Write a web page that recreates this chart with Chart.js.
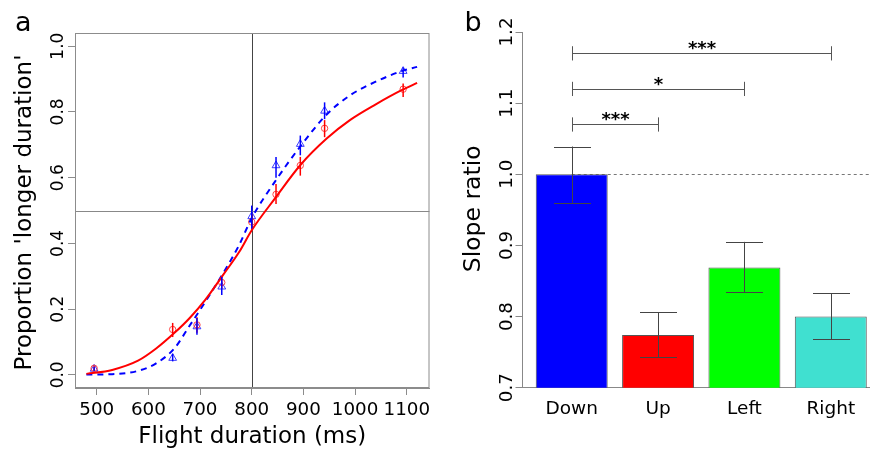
<!DOCTYPE html>
<html>
<head>
<meta charset="utf-8">
<script src="https://cdn.jsdelivr.net/npm/chart.js@4/dist/chart.umd.min.js"></script>
<style>
  html, body { margin: 0; padding: 0; background: #fff; overflow: hidden; }
  #wrap { position: relative; width: 870px; height: 454px; overflow: hidden; }
  canvas { position: absolute; top: 0; }
  #chartA { left: 0; }
  #chartB { left: 435px; }
</style>
</head>
<body>
<div id="wrap">
  <canvas id="chartA" width="435" height="454"></canvas>
  <canvas id="chartB" width="445" height="454"></canvas>
</div>
<script>
// ---- panel a: psychometric data ----
const durations = [495, 647, 694, 742, 800, 847, 894, 941, 1093];

const upProp = [0.020, 0.138, 0.152, 0.281, 0.465, 0.549, 0.637, 0.750, 0.869];
const upLo   = [0.013, 0.115, 0.128, 0.262, 0.440, 0.520, 0.606, 0.723, 0.845];
const upHi   = [0.027, 0.158, 0.175, 0.300, 0.490, 0.581, 0.663, 0.775, 0.886];

const downProp = [0.018, 0.051, 0.147, 0.268, 0.482, 0.637, 0.702, 0.803, 0.924];
const downLo   = [0.012, 0.041, 0.122, 0.243, 0.445, 0.600, 0.668, 0.778, 0.905];
const downHi   = [0.024, 0.064, 0.173, 0.298, 0.515, 0.663, 0.728, 0.829, 0.935];

// fitted curves
const fitX    = [480, 530, 580, 615, 650, 680, 710, 745, 775, 800, 845, 895, 945, 990, 1040, 1090, 1120];
const upFit   = [0.003, 0.015, 0.043, 0.080, 0.127, 0.173, 0.228, 0.305, 0.372, 0.440, 0.537, 0.640, 0.719, 0.775, 0.823, 0.866, 0.888];
const downFit = [0.001, 0.002, 0.012, 0.035, 0.080, 0.150, 0.222, 0.310, 0.393, 0.477, 0.588, 0.697, 0.792, 0.850, 0.892, 0.924, 0.937];

const xTicksA = [500, 600, 700, 800, 900, 1000, 1100];
const yTicksA = [0, 0.2, 0.4, 0.6, 0.8, 1.0];
const refDuration = 800;
const refProp = 0.5;

// ---- panel b: slope ratios ----
const directions = ['Down', 'Up', 'Left', 'Right'];
const slopeRatio = [1.000, 0.774, 0.869, 0.800];
const ratioLo    = [0.960, 0.743, 0.834, 0.768];
const ratioHi    = [1.039, 0.806, 0.905, 0.833];
const barColors  = ['#0000ff', '#ff0000', '#00ff00', '#40e0d0'];
const yTicksB = [0.7, 0.8, 0.9, 1.0, 1.1, 1.2];

const sigPairs  = [[0, 1], [0, 2], [0, 3]];
const sigLevels = [1.07, 1.12, 1.17];
const sigLabels = ['***', '*', '***'];

const FONT = '"DejaVu Sans", sans-serif';

function drawText(ctx, str, x, y, size, rotate, align, weight) {
    ctx.save();
    ctx.translate(x, y);
    if (rotate) ctx.rotate(-Math.PI / 2);
    ctx.font = (weight || 'normal') + ' ' + size + 'px ' + FONT;
    ctx.fillStyle = '#000';
    ctx.textAlign = align || 'center';
    ctx.textBaseline = 'alphabetic';
    ctx.fillText(str, 0, 0);
    ctx.restore();
}

function vline(ctx, x, y1, y2) {
    ctx.beginPath();
    ctx.moveTo(x, y1);
    ctx.lineTo(x, y2);
    ctx.stroke();
}

function hline(ctx, x1, x2, y) {
    ctx.beginPath();
    ctx.moveTo(x1, y);
    ctx.lineTo(x2, y);
    ctx.stroke();
}

// ---------- panel a ----------
const panelA = {
    id: 'panelA',
    beforeDatasetsDraw(chart) {
        const ctx = chart.ctx;
        const xs = chart.scales.x, ys = chart.scales.y;
        const area = chart.chartArea;
        ctx.save();
        ctx.lineWidth = 1;
        ctx.strokeStyle = '#444';
        vline(ctx, Math.round(xs.getPixelForValue(refDuration)) + 0.5, area.top, area.bottom);
        ctx.strokeStyle = '#888';
        hline(ctx, area.left, area.right, Math.round(ys.getPixelForValue(refProp)) + 0.5);
        ctx.restore();
    },
    afterDatasetsDraw(chart) {
        const ctx = chart.ctx;
        const xs = chart.scales.x, ys = chart.scales.y;
        ctx.save();
        ctx.lineWidth = 1.5;
        ctx.strokeStyle = '#ff0000';
        durations.forEach((d, i) => {
            vline(ctx, xs.getPixelForValue(d), ys.getPixelForValue(upLo[i]), ys.getPixelForValue(upHi[i]));
        });
        ctx.strokeStyle = '#0000ff';
        durations.forEach((d, i) => {
            vline(ctx, xs.getPixelForValue(d), ys.getPixelForValue(downLo[i]), ys.getPixelForValue(downHi[i]));
        });
        ctx.restore();
    },
    afterDraw(chart) {
        const ctx = chart.ctx;
        const xs = chart.scales.x, ys = chart.scales.y;
        const area = chart.chartArea;
        ctx.save();
        ctx.strokeStyle = '#8c8c8c';
        ctx.lineWidth = 1;
        ctx.strokeRect(area.left + 0.5, area.top + 0.5, area.right - area.left - 1, area.bottom - area.top - 1);
        ctx.restore();

        xTicksA.forEach(v => drawText(ctx, String(v), xs.getPixelForValue(v), 415, 18.3));
        yTicksA.forEach(v => drawText(ctx, v.toFixed(1), 62.5, ys.getPixelForValue(v), 17, true));
        drawText(ctx, 'Flight duration (ms)', (area.left + area.right) / 2, 443, 23);
        drawText(ctx, "Proportion 'longer duration'", 31, (area.top + area.bottom) / 2 + 2, 23, true);
        drawText(ctx, 'a', 15, 30.5, 27, false, 'left');
    }
};

new Chart(document.getElementById('chartA'), {
    type: 'scatter',
    data: {
        datasets: [
            {
                label: 'Up fit',
                data: fitX.map((x, i) => ({ x: x, y: upFit[i] })),
                showLine: true,
                borderColor: '#ff0000',
                borderWidth: 2,
                pointRadius: 0,
                cubicInterpolationMode: 'monotone'
            },
            {
                label: 'Down fit',
                data: fitX.map((x, i) => ({ x: x, y: downFit[i] })),
                showLine: true,
                borderColor: '#0000ff',
                borderWidth: 2,
                borderDash: [6, 5],
                pointRadius: 0,
                cubicInterpolationMode: 'monotone'
            },
            {
                label: 'Up',
                data: durations.map((d, i) => ({ x: d, y: upProp[i] })),
                pointStyle: 'circle',
                pointRadius: 3.2,
                borderColor: 'rgba(255,40,40,0.85)',
                backgroundColor: 'rgba(0,0,0,0)',
                borderWidth: 1
            },
            {
                label: 'Down',
                data: durations.map((d, i) => ({ x: d, y: downProp[i] })),
                pointStyle: 'triangle',
                pointRadius: 4.5,
                borderColor: 'rgba(40,40,255,0.9)',
                backgroundColor: 'rgba(0,0,0,0)',
                borderWidth: 1
            }
        ]
    },
    options: {
        responsive: false,
        animation: false,
        devicePixelRatio: 1,
        layout: { padding: { top: 33, right: 5, left: 0, bottom: 0 } },
        plugins: { legend: { display: false }, tooltip: { enabled: false } },
        scales: {
            x: {
                type: 'linear',
                min: 458,
                max: 1144,
                afterBuildTicks: s => { s.ticks = xTicksA.map(v => ({ value: v })); },
                afterFit: s => { s.height = 66; },
                ticks: { display: false },
                grid: { drawOnChartArea: false, tickLength: 7, color: '#8c8c8c' },
                border: { color: '#8c8c8c' }
            },
            y: {
                type: 'linear',
                min: -0.04,
                max: 1.04,
                afterBuildTicks: s => { s.ticks = yTicksA.map(v => ({ value: v })); },
                afterFit: s => { s.width = 75; },
                ticks: { display: false },
                grid: { drawOnChartArea: false, tickLength: 7, color: '#8c8c8c' },
                border: { color: '#8c8c8c' }
            }
        }
    },
    plugins: [panelA]
});

// ---------- panel b ----------
const panelB = {
    id: 'panelB',
    beforeDatasetsDraw(chart) {
        const ctx = chart.ctx;
        const ys = chart.scales.y;
        const area = chart.chartArea;
        const bar0 = chart.getDatasetMeta(0).data[0];
        ctx.save();
        ctx.strokeStyle = '#777';
        ctx.lineWidth = 1;
        ctx.setLineDash([3, 3]);
        hline(ctx, bar0.x, area.right, Math.round(ys.getPixelForValue(1.0)) + 0.5);
        ctx.restore();
    },
    afterDatasetsDraw(chart) {
        const ctx = chart.ctx;
        const ys = chart.scales.y;
        const bars = chart.getDatasetMeta(0).data;
        ctx.save();
        ctx.strokeStyle = '#444';
        ctx.lineWidth = 1;
        bars.forEach((b, i) => {
            const x = Math.round(b.x) + 0.5;
            const lo = ys.getPixelForValue(ratioLo[i]);
            const hi = ys.getPixelForValue(ratioHi[i]);
            vline(ctx, x, lo, hi);
            hline(ctx, x - 18.5, x + 18.5, Math.round(lo) + 0.5);
            hline(ctx, x - 18.5, x + 18.5, Math.round(hi) + 0.5);
        });
        ctx.strokeStyle = '#555';
        sigPairs.forEach((p, k) => {
            const x1 = Math.round(bars[p[0]].x) + 0.5;
            const x2 = Math.round(bars[p[1]].x) + 0.5;
            const y = Math.round(ys.getPixelForValue(sigLevels[k])) + 0.5;
            const yt = ys.getPixelForValue(sigLevels[k] + 0.01);
            const yb = ys.getPixelForValue(sigLevels[k] - 0.01);
            hline(ctx, x1, x2, y);
            vline(ctx, x1, yt, yb);
            vline(ctx, x2, yt, yb);
            drawText(ctx, sigLabels[k], (x1 + x2) / 2, y, 18, false, 'center', 'bold');
        });
        ctx.restore();
    },
    afterDraw(chart) {
        const ctx = chart.ctx;
        const ys = chart.scales.y;
        const area = chart.chartArea;
        const bars = chart.getDatasetMeta(0).data;
        yTicksB.forEach(v => drawText(ctx, v.toFixed(1), 76.5, ys.getPixelForValue(v), 18.3, true));
        bars.forEach((b, i) => drawText(ctx, directions[i], b.x, 414, 18.5));
        drawText(ctx, 'Slope ratio', 44.5, (area.top + area.bottom) / 2 - 1, 23.5, true);
        drawText(ctx, 'b', 29.5, 30.5, 27, false, 'left');
    }
};

new Chart(document.getElementById('chartB'), {
    type: 'bar',
    data: {
        datasets: [{
            label: 'Slope ratio',
            data: slopeRatio.map((v, i) => ({ x: i, y: v })),
            backgroundColor: barColors,
            borderColor: '#555',
            borderWidth: 1,
            borderSkipped: false,
            barPercentage: 1 / 1.2,
            categoryPercentage: 1
        }]
    },
    options: {
        responsive: false,
        animation: false,
        devicePixelRatio: 1,
        layout: { padding: { top: 32, right: 0, left: 0, bottom: 0 } },
        plugins: { legend: { display: false }, tooltip: { enabled: false } },
        scales: {
            x: {
                type: 'linear',
                offset: false,
                min: -0.57,
                max: 3.57,
                afterBuildTicks: s => { s.ticks = directions.map((d, i) => ({ value: i })); },
                afterFit: s => { s.height = 66.3; },
                ticks: { display: false },
                grid: { display: false },
                border: { display: true, color: '#888' }
            },
            y: {
                type: 'linear',
                min: 0.7,
                max: 1.2,
                afterBuildTicks: s => { s.ticks = yTicksB.map(v => ({ value: v })); },
                afterFit: s => { s.width = 87.5; },
                ticks: { display: false },
                grid: { drawOnChartArea: false, tickLength: 7, color: '#888' },
                border: { color: '#888' }
            }
        }
    },
    plugins: [panelB]
});
</script>
</body>
</html>
